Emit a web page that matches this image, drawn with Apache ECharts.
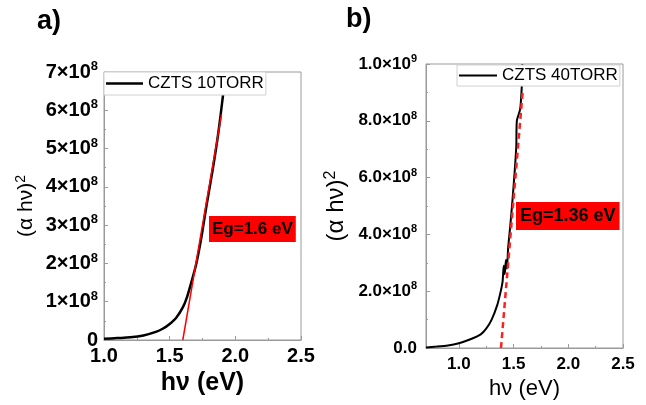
<!DOCTYPE html>
<html>
<head>
<meta charset="utf-8">
<script src="https://cdn.jsdelivr.net/npm/echarts@6/dist/echarts.min.js"></script>
<style>
  html, body { margin: 0; padding: 0; background: #fff; }
  #chart { width: 646px; height: 405px; }
</style>
</head>
<body>
<div id="chart"></div>
<script>
// panel a) CZTS 10 TORR, y in units of 1e8
const leftCurveX = [1.0, 1.1, 1.2, 1.3, 1.4, 1.45, 1.5, 1.55, 1.6, 1.63, 1.66, 1.7, 1.74, 1.78, 1.83, 1.87, 1.91];
const leftCurveY = [0.03, 0.05, 0.07, 0.12, 0.22, 0.30, 0.42, 0.58, 0.85, 1.1, 1.45, 1.95, 2.65, 3.5, 4.5, 5.4, 6.5];
const leftFitX = [1.6, 1.895];
const leftFitY = [0, 5.9];

// panel b) CZTS 40 TORR, y in units of 1e8
const rightCurveX = [0.7, 0.8, 0.9, 1.0, 1.1, 1.2, 1.25, 1.3, 1.35, 1.38, 1.4, 1.41, 1.42, 1.43, 1.44, 1.45, 1.47, 1.49, 1.51, 1.525, 1.53, 1.56, 1.575, 1.58];
const rightCurveY = [0.02, 0.05, 0.09, 0.17, 0.3, 0.48, 0.68, 1.0, 1.5, 1.95, 2.35, 2.9, 2.6, 3.1, 2.8, 3.5, 4.3, 5.2, 6.2, 7.1, 8.0, 8.4, 9.2, 10.0];
const rightFitX = [1.385, 1.585];
const rightFitY = [0, 9.1];

const rightMajorTicks = [1.0, 1.5, 2.0, 2.5];
const rightMinorTicks = [0.75, 1.25, 1.75, 2.25];

const pairs = (xs, ys) => xs.map((x, i) => [x, ys[i]]);

const frame = '#9a9a9a';
const font = 'Liberation Sans, Arial, sans-serif';

function supLabel(size, supSize) {
  return {
    a: { fontSize: size, fontWeight: 'bold', color: '#000', fontFamily: font, lineHeight: size + 4 },
    s: { fontSize: supSize, fontWeight: 'bold', color: '#000', fontFamily: font, verticalAlign: 'top', lineHeight: size + 4 },
  };
}

const chart = echarts.init(document.getElementById('chart'));

chart.setOption({
  backgroundColor: '#fff',
  animation: false,
  grid: [
    { left: 104, top: 72, width: 197, height: 268, show: true, borderColor: frame, borderWidth: 1 },
    { left: 426, top: 64, width: 197, height: 286, show: true, borderColor: frame, borderWidth: 1 },
  ],
  legend: [
    {
      data: ['CZTS 10TORR'], left: 104, top: 72, padding: [3, 2, 3, 2],
      icon: 'rect', itemWidth: 37, itemHeight: 2.5,
      backgroundColor: '#fff', borderColor: '#d0d0d0', borderWidth: 1, borderRadius: 0,
      textStyle: { fontSize: 17, color: '#000', fontFamily: font },
    },
    {
      data: ['CZTS 40TORR'], left: 457, top: 65, padding: [2, 2, 2, 2],
      icon: 'rect', itemWidth: 38, itemHeight: 2,
      backgroundColor: '#fff', borderColor: '#d0d0d0', borderWidth: 1, borderRadius: 0,
      textStyle: { fontSize: 17, color: '#000', fontFamily: font },
    },
  ],
  xAxis: [
    {
      type: 'value', gridIndex: 0, position: 'bottom', min: 1, max: 2.5, interval: 0.5,
      axisLine: { show: true, lineStyle: { color: frame } },
      axisTick: { inside: true, length: 4, lineStyle: { color: frame } },
      minorTick: { show: true, splitNumber: 2, length: 2, lineStyle: { color: frame } },
      splitLine: { show: false },
      axisLabel: { fontSize: 20, fontWeight: 'bold', color: '#000', fontFamily: font, margin: 6, formatter: (v) => v.toFixed(1) },
      name: 'hν (eV)', nameLocation: 'middle', nameGap: 31,
      nameTextStyle: { fontSize: 25, fontWeight: 'bold', color: '#000', fontFamily: font },
    },
    {
      type: 'value', gridIndex: 1, position: 'bottom', min: 0.7, max: 2.5,
      axisLine: { show: true, lineStyle: { color: frame } },
      axisTick: { inside: true, length: 4, customValues: rightMajorTicks, lineStyle: { color: frame } },
      splitLine: { show: false },
      axisLabel: { customValues: rightMajorTicks, fontSize: 17, fontWeight: 'bold', color: '#000', fontFamily: font, margin: 8, formatter: (v) => v.toFixed(1) },
      name: 'hν (eV)', nameLocation: 'middle', nameGap: 30,
      nameTextStyle: { fontSize: 22, color: '#000', fontFamily: font },
    },
    {
      // minor ticks of panel b
      type: 'value', gridIndex: 1, position: 'bottom', min: 0.7, max: 2.5,
      axisLine: { show: false },
      axisTick: { inside: true, length: 2, customValues: rightMinorTicks, lineStyle: { color: frame } },
      axisLabel: { show: false },
      splitLine: { show: false },
    },
  ],
  yAxis: [
    {
      type: 'value', gridIndex: 0, min: 0, max: 7, interval: 1,
      axisLine: { show: true, lineStyle: { color: frame } },
      axisTick: { inside: true, length: 4, lineStyle: { color: frame } },
      minorTick: { show: true, splitNumber: 2, length: 2, lineStyle: { color: frame } },
      splitLine: { show: false },
      axisLabel: {
        margin: 6,
        formatter: (v) => (v === 0 ? '{a|0}' : `{a|${v}×10}{s|8}`),
        rich: supLabel(20, 13),
      },
      name: '{a|(α hν)}{s|2}', nameLocation: 'middle', nameGap: 66, nameRotate: 90,
      nameTextStyle: {
        rich: {
          a: { fontSize: 21, color: '#000', fontFamily: font, lineHeight: 24 },
          s: { fontSize: 14, color: '#000', fontFamily: font, verticalAlign: 'top', lineHeight: 24 },
        },
      },
    },
    {
      type: 'value', gridIndex: 1, min: 0, max: 10, interval: 2,
      axisLine: { show: true, lineStyle: { color: frame } },
      axisTick: { inside: true, length: 4, lineStyle: { color: frame } },
      minorTick: { show: true, splitNumber: 2, length: 2, lineStyle: { color: frame } },
      splitLine: { show: false },
      axisLabel: {
        margin: 9,
        formatter: (v) => (v === 0 ? '{a|0.0}' : v === 10 ? '{a|1.0×10}{s|9}' : `{a|${v.toFixed(1)}×10}{s|8}`),
        rich: supLabel(17, 11),
      },
      name: '{a|(α hν)}{s|2}', nameLocation: 'middle', nameGap: 77, nameRotate: 90,
      nameTextStyle: {
        rich: {
          a: { fontSize: 24, color: '#000', fontFamily: font, lineHeight: 26 },
          s: { fontSize: 16, color: '#000', fontFamily: font, verticalAlign: 'top', lineHeight: 26 },
        },
      },
    },
  ],
  series: [
    {
      name: 'CZTS 10TORR', type: 'line', xAxisIndex: 0, yAxisIndex: 0,
      data: pairs(leftCurveX, leftCurveY), smooth: 0.3, symbol: 'none',
      lineStyle: { color: '#000', width: 2.5 }, itemStyle: { color: '#000' },
    },
    {
      name: 'fit a', type: 'line', xAxisIndex: 0, yAxisIndex: 0,
      data: pairs(leftFitX, leftFitY), symbol: 'none',
      lineStyle: { color: '#ff0000', width: 1.5 },
    },
    {
      name: 'CZTS 40TORR', type: 'line', xAxisIndex: 1, yAxisIndex: 1,
      data: pairs(rightCurveX, rightCurveY), smooth: 0.2, symbol: 'none',
      lineStyle: { color: '#000', width: 2 }, itemStyle: { color: '#000' },
    },
    {
      name: 'fit b', type: 'line', xAxisIndex: 1, yAxisIndex: 1,
      data: pairs(rightFitX, rightFitY), symbol: 'none',
      lineStyle: { color: '#ff2020', width: 2.5, type: [6, 4] },
    },
  ],
  graphic: [
    { type: 'text', left: 37, top: 8, style: { text: 'a)', font: `bold 27px ${font}`, fill: '#000' } },
    { type: 'text', left: 346, top: 6, style: { text: 'b)', font: `bold 27px ${font}`, fill: '#000' } },
    {
      type: 'text', left: 209, top: 216,
      style: { text: 'Eg=1.6 eV', font: `bold 17px ${font}`, fill: '#000', backgroundColor: '#ff0000', padding: [5, 3, 4, 3] },
    },
    {
      type: 'text', left: 516, top: 202,
      style: { text: 'Eg=1.36 eV', font: `bold 18px ${font}`, fill: '#000', backgroundColor: '#ff0000', padding: [5, 4, 5, 4] },
    },
  ],
});
</script>
</body>
</html>
